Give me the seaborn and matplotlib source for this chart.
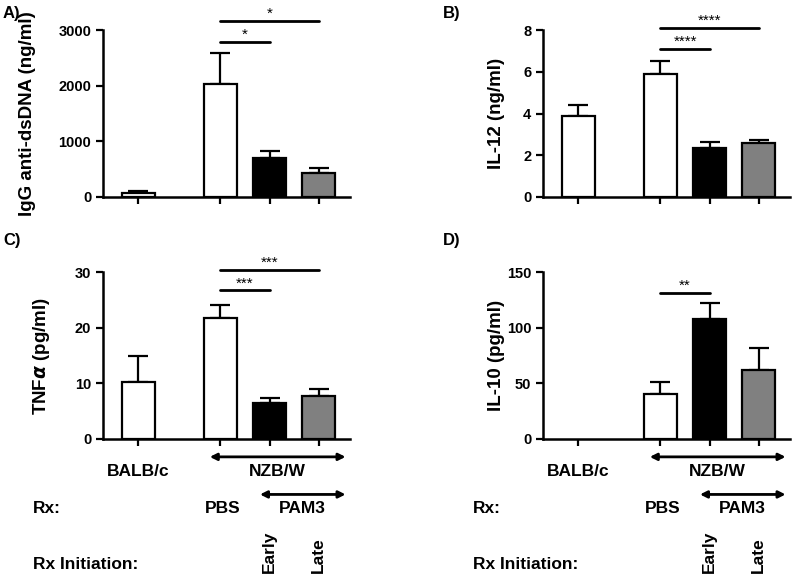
import numpy as np
import pandas as pd
import matplotlib
matplotlib.use("Agg")
import matplotlib.pyplot as plt
import seaborn as sns

# === Data ===
groups = ["BALB/c PBS", "NZB/W PBS", "NZB/W PAM3 Early", "NZB/W PAM3 Late"]
positions = [0, 5 / 3, 8 / 3, 11 / 3]
bar_colors = ["white", "white", "black", "#808080"]

igg_mean = [70, 2030, 706, 431]
igg_err = [35, 550, 120, 95]

il12_mean = [3.89, 5.89, 2.36, 2.59]
il12_err = [0.53, 0.64, 0.27, 0.16]

tnf_mean = [10.3, 21.8, 6.4, 7.7]
tnf_err = [4.7, 2.2, 0.9, 1.25]

il10_mean = [np.nan, 40, 108, 62]
il10_err = [np.nan, 10.8, 14.4, 19.5]

# significance bars: (from group, to group, height, label)
igg_sig = [(1, 2, 2784, "*"), (1, 3, 3167, "*")]
il12_sig = [(1, 2, 7.10, "****"), (1, 3, 8.10, "****")]
tnf_sig = [(1, 2, 26.7, "***"), (1, 3, 30.4, "***")]
il10_sig = [(1, 2, 131, "**")]

sns.set_style("ticks")
plt.rcParams["font.family"] = ["Liberation Sans", "DejaVu Sans"]
plt.rcParams["font.weight"] = "bold"
plt.rcParams["axes.labelweight"] = "bold"
for key in ["text.color", "axes.labelcolor", "xtick.color", "ytick.color",
            "axes.edgecolor"]:
    plt.rcParams[key] = "black"

fig = plt.figure(figsize=(8, 5.77), dpi=100)
W, H = 800, 577


def add_axes(left_px, top_px, right_px, bottom_px):
    return fig.add_axes([left_px / W, 1 - bottom_px / H,
                         (right_px - left_px) / W, (bottom_px - top_px) / H])


panels = [
    (add_axes(103, 30, 350, 197), igg_mean, igg_err, igg_sig,
     "IgG anti-dsDNA (ng/ml)", [0, 1000, 2000, 3000], -0.27, "A)"),
    (add_axes(543, 30, 790, 197), il12_mean, il12_err, il12_sig,
     "IL-12 (ng/ml)", [0, 2, 4, 6, 8], -0.155, "B)"),
    (add_axes(103, 272, 350, 439), tnf_mean, tnf_err, tnf_sig,
     "TNF$\\alpha$ (pg/ml)", [0, 10, 20, 30], -0.205, "C)"),
    (add_axes(543, 272, 790, 439), il10_mean, il10_err, il10_sig,
     "IL-10 (pg/ml)", [0, 50, 100, 150], -0.155, "D)"),
]

for ax, means, errs, sigs, ylabel, yticks, label_x, tag in panels:
    df = pd.DataFrame({"group": groups, "pos": positions,
                       "mean": means, "err": errs})
    sns.barplot(data=df.dropna(), x="pos", y="mean", hue="group",
                palette=dict(zip(groups, bar_colors)), native_scale=True,
                dodge=False, width=0.67, edgecolor="black", linewidth=1.6,
                errorbar=None, legend=False, ax=ax, zorder=3)
    ok = df.dropna()
    ax.errorbar(ok["pos"], ok["mean"], yerr=[np.zeros(len(ok)), ok["err"]],
                fmt="none", ecolor="black", elinewidth=1.6, capsize=7,
                capthick=1.6, zorder=2)

    ax.set_xlim(-0.72, 4.3)
    ax.set_ylim(0, yticks[-1])
    ax.set_xticks(positions)
    ax.set_xticklabels([])
    ax.set_yticks(yticks)
    ax.set_xlabel("")
    ax.set_ylabel(ylabel, fontsize=13.5, fontweight="bold")
    ax.yaxis.set_label_coords(label_x, 0.5)
    ax.tick_params(axis="both", width=1.6, length=5, labelsize=10.5)
    for lab in ax.get_yticklabels():
        lab.set_fontweight("bold")
    sns.despine(ax=ax)
    for side in ["left", "bottom"]:
        ax.spines[side].set_linewidth(1.8)

    for i, j, h, stars in sigs:
        ax.plot([positions[i], positions[j]], [h, h], color="black",
                lw=2, clip_on=False)
        ax.text((positions[i] + positions[j]) / 2, h, stars, ha="center",
                va="bottom", fontsize=11, fontweight="normal", clip_on=False)

    bbox = ax.get_position()
    tag_x = 3 / W if bbox.x0 < 0.5 else 443 / W
    tag_y = 1 - 6 / H if bbox.y1 > 0.9 else 1 - 233 / H
    fig.text(tag_x, tag_y, tag, fontsize=12, fontweight="bold",
             va="top", ha="left")

# === group annotations under the bottom panels ===
strain_labels = ["BALB/c", "NZB/W", "PBS", "PAM3"]
init_labels = ["Early", "Late"]
arrow_kw = dict(arrowstyle="<|-|>", color="black", lw=2,
                mutation_scale=10, shrinkA=0, shrinkB=0)

for ax in [panels[2][0], panels[3][0]]:
    tr = ax.get_xaxis_transform()
    ax.annotate("", xy=(4.21, -0.107), xytext=(1.45, -0.107),
                xycoords=tr, textcoords=tr, arrowprops=arrow_kw,
                annotation_clip=False)
    ax.annotate("", xy=(4.21, -0.332), xytext=(2.47, -0.332),
                xycoords=tr, textcoords=tr, arrowprops=arrow_kw,
                annotation_clip=False)
    ax.text(positions[0], -0.193, strain_labels[0], transform=tr,
            ha="center", va="center", fontsize=12.5, clip_on=False)
    ax.text(2.83, -0.193, strain_labels[1], transform=tr,
            ha="center", va="center", fontsize=12.5, clip_on=False)
    ax.text(-2.15, -0.416, "Rx:", transform=tr,
            ha="left", va="center", fontsize=12.5, clip_on=False)
    ax.text(1.71, -0.416, strain_labels[2], transform=tr,
            ha="center", va="center", fontsize=12.5, clip_on=False)
    ax.text(3.33, -0.416, strain_labels[3], transform=tr,
            ha="center", va="center", fontsize=12.5, clip_on=False)
    ax.text(-2.15, -0.75, "Rx Initiation:", transform=tr,
            ha="left", va="center", fontsize=12.5, clip_on=False)
    for p, lab in zip(positions[2:], init_labels):
        ax.text(p, -0.805, lab, transform=tr, rotation=90,
                ha="center", va="bottom", fontsize=12.5, clip_on=False)

fig.savefig("out.png", dpi=100)
